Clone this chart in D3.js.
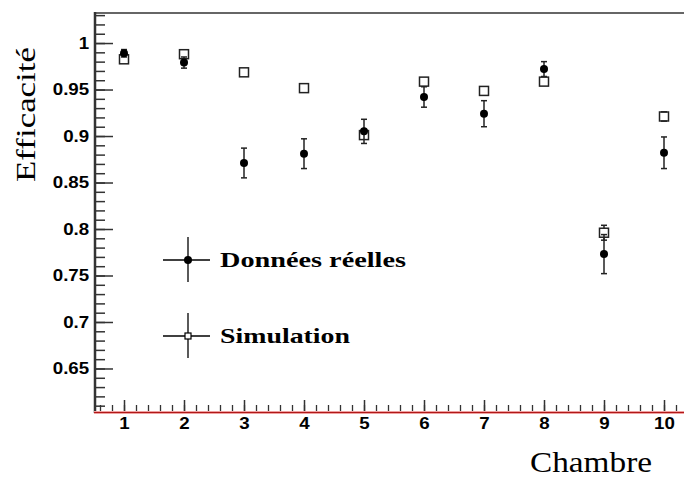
<!DOCTYPE html>
<html>
<head>
<meta charset="utf-8">
<script src="https://cdn.jsdelivr.net/npm/d3@7"></script>
<style>
  html, body { margin: 0; padding: 0; background: #fff; overflow: hidden; }
  svg { display: block; overflow: hidden; }
</style>
</head>
<body>
<svg id="chart" width="684" height="477"></svg>
<script>
const chambers = [1, 2, 3, 4, 5, 6, 7, 8, 9, 10];
const donnees = [0.989, 0.979, 0.871, 0.881, 0.905, 0.942, 0.924, 0.972, 0.773, 0.882];
const donneesErr = [0.004, 0.006, 0.016, 0.016, 0.013, 0.011, 0.014, 0.008, 0.021, 0.017];
const simulation = [0.9825, 0.988, 0.9685, 0.9515, 0.901, 0.9585, 0.9485, 0.9585, 0.796, 0.921];
const simulationErr = [0.002, 0.002, 0.002, 0.002, 0.004, 0.002, 0.002, 0.002, 0.008, 0.005];
const yTicks = [0.65, 0.7, 0.75, 0.8, 0.85, 0.9, 0.95, 1];
const xTicks = [1, 2, 3, 4, 5, 6, 7, 8, 9, 10];
const legendLabels = ["Données réelles", "Simulation"];

const svg = d3.select("#chart");
const x = d3.scaleLinear().domain([0.5, 10.5]).range([94, 694]);
const y = d3.scaleLinear().domain([0.6032, 1.0323]).range([412, 13]);

const axisColor = "#333";

// top frame
svg.append("line").attr("x1", 94).attr("x2", 684).attr("y1", 13).attr("y2", 13)
  .attr("stroke", "#666").attr("stroke-width", 2);

// Y axis minor ticks
const yMinor = d3.range(61, 104).map(d => d / 100);
svg.append("g").attr("transform", "translate(95,0)")
  .call(d3.axisLeft(y).tickValues(yMinor).tickSizeInner(-10).tickSizeOuter(0).tickFormat(""))
  .call(g => g.select(".domain").remove())
  .call(g => g.selectAll("line").attr("stroke", axisColor).attr("stroke-width", 1.5));

// Y axis major
const yAxis = svg.append("g").attr("transform", "translate(95,0)")
  .call(d3.axisLeft(y).tickValues(yTicks).tickSizeInner(-18).tickSizeOuter(0).tickPadding(5)
    .tickFormat(d => d3.format("")(+d.toFixed(2))));
yAxis.select(".domain").remove();
yAxis.selectAll("line").attr("stroke", axisColor).attr("stroke-width", 1.5);
yAxis.selectAll("text")
  .attr("font-family", "'Liberation Sans', Arial, sans-serif")
  .attr("font-weight", "bold").attr("font-size", 16).attr("fill", "#000")
  .attr("transform", "scale(1.17,1)");
svg.append("line").attr("x1", 95).attr("x2", 95).attr("y1", 12).attr("y2", 413)
  .attr("stroke", axisColor).attr("stroke-width", 2.5);

// X axis minor ticks
const xMinor = d3.range(3, 53).map(d => d / 5).filter(v => x(v) < 684);
svg.append("g").attr("transform", "translate(0,412)")
  .call(d3.axisBottom(x).tickValues(xMinor).tickSizeInner(-7).tickSizeOuter(0).tickFormat(""))
  .call(g => g.select(".domain").remove())
  .call(g => g.selectAll("line").attr("stroke", axisColor).attr("stroke-width", 1.3));

const xAxis = svg.append("g").attr("transform", "translate(0,412)")
  .call(d3.axisBottom(x).tickValues(xTicks).tickSizeInner(-12).tickSizeOuter(0).tickPadding(6));
xAxis.select(".domain").remove();
xAxis.selectAll("line").attr("stroke", axisColor).attr("stroke-width", 1.5);
xAxis.selectAll("text")
  .attr("font-family", "'Liberation Sans', Arial, sans-serif")
  .attr("font-weight", "bold").attr("font-size", 16).attr("fill", "#000")
  .attr("transform", "scale(1.17,1)");

// x-axis line (red)
svg.append("line").attr("x1", 94).attr("x2", 684).attr("y1", 412.5).attr("y2", 412.5)
  .attr("stroke", "#f0a0a0").attr("stroke-width", 3);
svg.append("line").attr("x1", 94).attr("x2", 684).attr("y1", 412.5).attr("y2", 412.5)
  .attr("stroke", "#b01818").attr("stroke-width", 1.2);

// Axis titles
svg.append("text").text("Chambre")
  .attr("x", 530).attr("y", 472)
  .attr("font-family", "'Liberation Serif', 'Times New Roman', serif")
  .attr("font-size", 29).attr("fill", "#000")
  .attr("textLength", 122).attr("lengthAdjust", "spacingAndGlyphs");
svg.append("text").text("Efficacité")
  .attr("transform", "translate(35,182) rotate(-90)")
  .attr("font-family", "'Liberation Serif', 'Times New Roman', serif")
  .attr("font-size", 28).attr("fill", "#000")
  .attr("textLength", 135).attr("lengthAdjust", "spacingAndGlyphs");

// Error bars (drawn outside the marker, as ROOT does)
const cap = 3;
function errorBars(vals, errs, half, cls) {
  const g = svg.append("g").attr("class", cls);
  chambers.forEach((c, i) => {
    const cx = x(c), cy = y(vals[i]);
    const top = y(vals[i] + errs[i]), bot = y(vals[i] - errs[i]);
    [[top, cy - half], [bot, cy + half]].forEach(([end, edge]) => {
      if (Math.abs(end - cy) <= half) return;
      g.append("line").attr("x1", cx).attr("x2", cx).attr("y1", edge).attr("y2", end)
        .attr("stroke", "#222").attr("stroke-width", 1.5);
      g.append("line").attr("x1", cx - cap).attr("x2", cx + cap)
        .attr("y1", end).attr("y2", end).attr("stroke", "#222").attr("stroke-width", 1.5);
    });
  });
}
errorBars(simulation, simulationErr, 4.5, "simErr");

svg.append("g").selectAll("rect").data(chambers).join("rect")
  .attr("x", (d, i) => x(d) - 4.5).attr("y", (d, i) => y(simulation[i]) - 4.5)
  .attr("width", 9).attr("height", 9)
  .attr("fill", "none").attr("stroke", "#222").attr("stroke-width", 1.5);

errorBars(donnees, donneesErr, 3, "datErr");
svg.append("g").selectAll("circle").data(chambers).join("circle")
  .attr("cx", d => x(d)).attr("cy", (d, i) => y(donnees[i])).attr("r", 4)
  .attr("fill", "#000");

// Legend
const leg = svg.append("g");
const legY = [260, 336];
const legBase = [267, 343];
const legLen = [186, 130];
legendLabels.forEach((lab, i) => {
  const cy = legY[i];
  leg.append("line").attr("x1", 163).attr("x2", 210).attr("y1", cy).attr("y2", cy)
    .attr("stroke", "#000").attr("stroke-width", 1.3);
  leg.append("line").attr("x1", 188).attr("x2", 188).attr("y1", cy - 23).attr("y2", cy + 22)
    .attr("stroke", "#000").attr("stroke-width", 1.3);
  if (i === 0) {
    leg.append("circle").attr("cx", 188).attr("cy", cy).attr("r", 4).attr("fill", "#000");
  } else {
    leg.append("rect").attr("x", 185).attr("y", cy - 3).attr("width", 6).attr("height", 6)
      .attr("fill", "#fff").attr("stroke", "#000").attr("stroke-width", 1.2);
  }
  leg.append("text").text(lab)
    .attr("x", 220).attr("y", legBase[i])
    .attr("font-family", "'Liberation Serif', 'Times New Roman', serif")
    .attr("font-weight", "bold").attr("font-size", 22).attr("fill", "#000")
    .attr("textLength", legLen[i]).attr("lengthAdjust", "spacingAndGlyphs");
});
</script>
</body>
</html>
